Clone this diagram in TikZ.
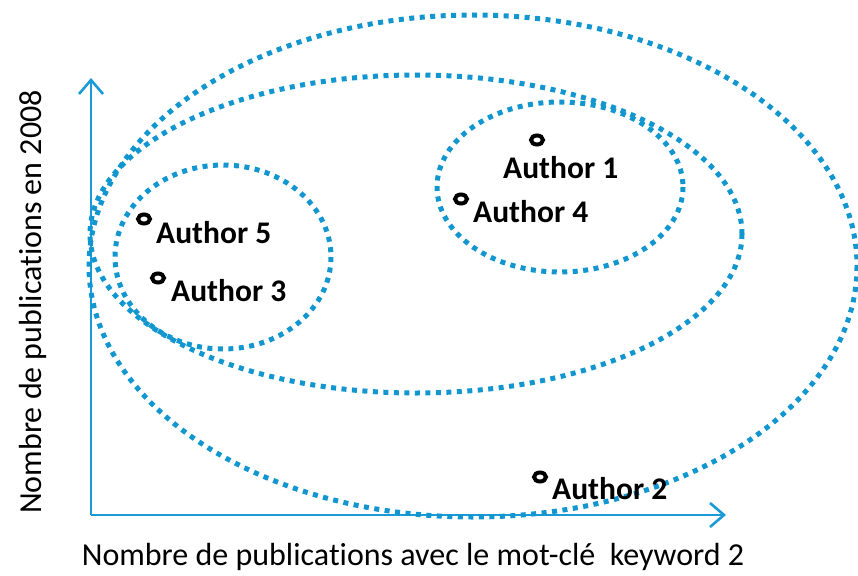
\documentclass[tikz,border=0pt]{standalone}
\usepackage{fontspec}
\setmainfont[Ligatures=NoCommon]{Carlito}
\usetikzlibrary{arrows.meta}
\definecolor{axisblue}{HTML}{1A9BD7}
\definecolor{groupblue}{HTML}{1296CF}
\begin{document}
\begin{tikzpicture}[x=1pt,y=-1pt,
  axis/.style={draw=axisblue,line width=2.6pt,-{Straight Barb[length=14pt,width=24pt,line width=2.6pt]}},
  group/.style={draw=groupblue,line width=5pt,dash pattern=on 5pt off 5.5pt},
  marker/.style={draw=black,line width=4pt},
  authorlbl/.style={font=\bfseries\fontsize{31.5}{33}\selectfont,anchor=west,inner sep=0pt},
  axislbl/.style={font=\fontsize{32}{34}\selectfont,inner sep=0pt}]
\useasboundingbox (0,0) rectangle (858,575);
% axes
\coordinate (origin) at (91,515);
\coordinate (ytip) at (91,78);
\coordinate (xtip) at (726,515);
\draw[axis] (origin) -- (ytip);
\draw[axis] (origin) -- (xtip);
% groupings
\draw[group] (473,266) ellipse [x radius=384, y radius=251];
\draw[group] (416,234) ellipse [x radius=326, y radius=159];
\draw[group] (223,257) ellipse [x radius=108, y radius=92];
\draw[group] (560,187) ellipse [x radius=123, y radius=85];
% authors
\draw[marker] (537,140) ellipse [x radius=6, y radius=4.5];
\node[authorlbl] (a1) at (503,168) {Author 1};
\draw[marker] (461,199) ellipse [x radius=6, y radius=4.5];
\node[authorlbl] (a4) at (473,212) {Author 4};
\draw[marker] (144,219) ellipse [x radius=6, y radius=4.5];
\node[authorlbl] (a5) at (156,233) {Author 5};
\draw[marker] (158,278) ellipse [x radius=6, y radius=4.5];
\node[authorlbl] (a3) at (171,291) {Author 3};
\draw[marker] (540,477) ellipse [x radius=6, y radius=4.5];
\node[authorlbl] (a2) at (552,489) {Author 2};
% axis labels
\node[axislbl] (xl) at (413,557) {Nombre de publications avec le mot-clé\ \ keyword 2};
\node[axislbl,rotate=90] (yl) at (33,302) {Nombre de publications en 2008};
\end{tikzpicture}
\end{document}
